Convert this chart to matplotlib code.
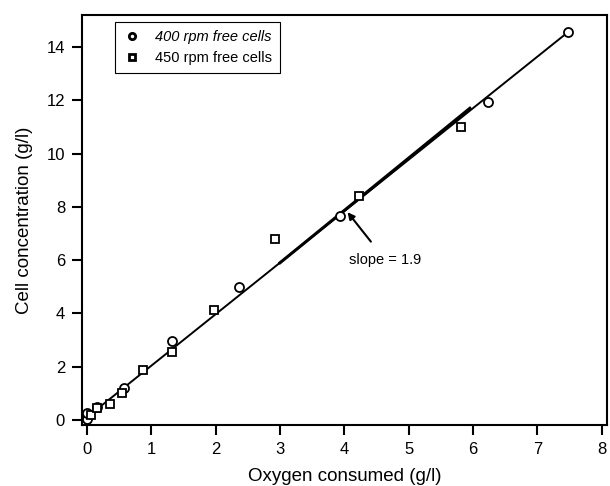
import numpy as np
import matplotlib as mpl
import matplotlib.pyplot as plt

mpl.rcParams.update({
    "font.family": ["Liberation Sans", "DejaVu Sans"],
    "font.size": 12,
    "axes.linewidth": 1.5,
})

# data
# ------------------------
o2_400 = [0.0, 0.0, 0.16, 0.57, 1.32, 2.37, 3.94, 6.23, 7.47]
cells_400 = [0.04, 0.26, 0.5, 1.2, 2.97, 5.0, 7.67, 11.92, 14.55]
o2_450 = [0.07, 0.15, 0.36, 0.54, 0.87, 1.33, 1.98, 2.93, 4.22, 5.82]
cells_450 = [0.19, 0.45, 0.6, 1.01, 1.88, 2.56, 4.13, 6.8, 8.42, 10.98]

# fitted lines (two overlapping fits)
fit_400_x = [0.0, 7.47]
fit_400_y = [0.1, 14.55]
fit_450_x = [3.0, 5.95]
fit_450_y = [5.9, 11.7]

fig = plt.figure(figsize=(6.1, 4.86), dpi=100)
ax = fig.add_axes([0.134, 0.1255, 0.861, 0.8435])

ax.plot(fit_400_x, fit_400_y, color='black', linewidth=1.4, zorder=2)
ax.plot(fit_450_x, fit_450_y, color='black', linewidth=2.2, zorder=2)

ax.plot(o2_400, cells_400, 'o', markersize=6.5, markerfacecolor='white',
        markeredgecolor='black', markeredgewidth=1.3, zorder=3,
        label='400 rpm free cells')
ax.plot(o2_450, cells_450, 's', markersize=6, markerfacecolor='white',
        markeredgecolor='black', markeredgewidth=1.3, zorder=3,
        label='450 rpm free cells')

ax.annotate('slope = 1.9', xy=(4.05, 7.8), xytext=(4.64, 6.0),
            ha='center', va='center', fontsize=10.5,
            arrowprops=dict(arrowstyle='-|>', color='black', lw=1.5,
                            shrinkA=8, shrinkB=0, mutation_scale=10))

ax.set_xlim(-0.08, 8.08)
ax.set_ylim(-0.19, 15.2)
ax.set_xticks(range(0, 9))
ax.set_yticks(range(0, 15, 2))
ax.tick_params(direction='out', length=7, width=1.5, labelsize=12, pad=5)

ax.set_xlabel('Oxygen consumed (g/l)', fontsize=13.5, labelpad=8)
ax.set_ylabel('Cell concentration (g/l)', fontsize=13.5, labelpad=10)

leg = ax.legend(loc='upper left', bbox_to_anchor=(0.063, 0.983), fontsize=10.5,
                markerscale=0.7, handlelength=1.2, handletextpad=1.0,
                borderpad=0.55, labelspacing=0.45, borderaxespad=0,
                fancybox=False, framealpha=1)
leg.get_frame().set_edgecolor('black')
leg.get_frame().set_linewidth(0.8)
for h in leg.legend_handles:
    h.set_markeredgewidth(2)
leg.get_texts()[0].set_style('italic')

fig.patch.set_facecolor('white')
fig.savefig('out.png', dpi=100)
